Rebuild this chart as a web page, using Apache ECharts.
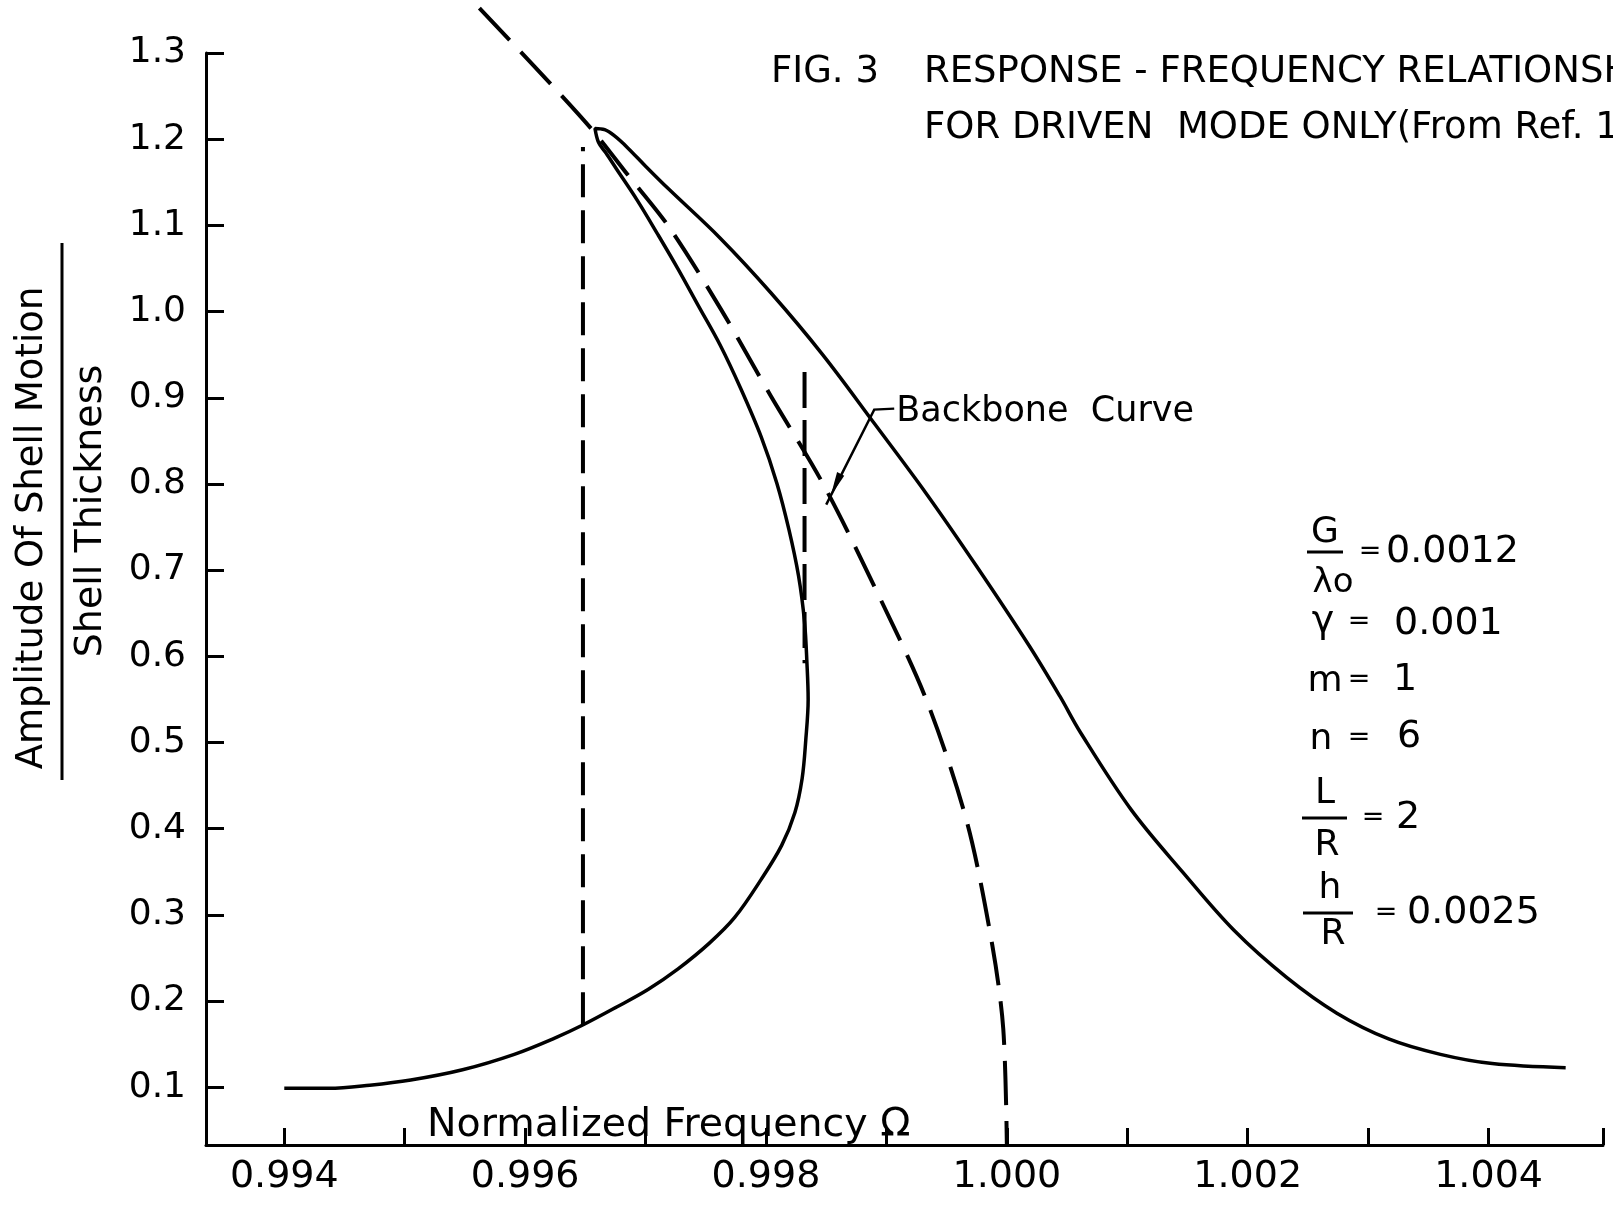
<!DOCTYPE html>
<html>
<head>
<meta charset="utf-8">
<title>Response-Frequency Relationship</title>
<script src="https://cdn.jsdelivr.net/npm/echarts@6/dist/echarts.min.js"></script>
<style>
  html, body { margin: 0; padding: 0; background: #fff; }
  #chart { width: 1613px; height: 1228px; }
</style>
</head>
<body>
<div id="chart"></div>
<script>
// Normalized frequency (Omega) vs. amplitude / shell thickness.
// Lower stable branch, from the far left up to the turning point (nose).
const lowerBranch = [
  [0.99400, 0.0988], [0.99437, 0.0988], [0.99471, 0.1024], [0.99505, 0.1084],
  [0.99548, 0.1203], [0.99591, 0.1382], [0.99625, 0.1573], [0.99647, 0.1716],
  [0.99676, 0.1931], [0.99702, 0.2134], [0.99727, 0.2373], [0.99753, 0.2672],
  [0.99774, 0.2970], [0.99796, 0.3412], [0.99813, 0.3806], [0.99824, 0.4188],
  [0.99830, 0.4582], [0.99833, 0.5024], [0.99835, 0.5501]
];
// Unstable branch, from the nose up to the peak.
const unstableBranch = [
  [0.99834, 0.5919], [0.99832, 0.6397], [0.99827, 0.6934], [0.99819, 0.7472],
  [0.99809, 0.8009], [0.99796, 0.8546], [0.99779, 0.9107], [0.99762, 0.9609],
  [0.99744, 1.0063], [0.99727, 1.0493], [0.99710, 1.0899], [0.99693, 1.1293],
  [0.99676, 1.1651], [0.99667, 1.1842], [0.99661, 1.1961], [0.99658, 1.2125]
];
// Upper stable branch, from the peak down to the right.
const upperBranch = [
  [0.99666, 1.2110], [0.99674, 1.2040], [0.99685, 1.1902],
  [0.99700, 1.1687], [0.99719, 1.1424], [0.99762, 1.0851], [0.99804, 1.0218],
  [0.99847, 0.9501], [0.99890, 0.8701], [0.99933, 0.7890], [0.99975, 0.7042],
  [1.00018, 0.6134], [1.00044, 0.5537], [1.00061, 0.5119], [1.00103, 0.4224],
  [1.00146, 0.3496], [1.00189, 0.2815], [1.00232, 0.2278], [1.00274, 0.1860],
  [1.00317, 0.1561], [1.00360, 0.1382], [1.00403, 0.1275], [1.00464, 0.1227]
];
// Backbone curve (free vibration).
const backbone = [
  [0.99562, 1.352], [0.99608, 1.284], [0.99655, 1.212], [0.99685, 1.159],
  [0.99719, 1.099], [0.99762, 1.004], [0.99804, 0.902], [0.99847, 0.801],
  [0.99890, 0.681], [0.99933, 0.550], [0.99967, 0.407], [0.99988, 0.264],
  [0.99997, 0.168], [1.00000, 0.033]
];
// Jump transitions.
const jumpUp = [[0.99648, 0.172], [0.99648, 1.191]];
const jumpDown = [[0.99832, 0.930], [0.99832, 0.592]];

// Axes.
const xRange = [0.99335, 1.00495];
const yRange = [0.033, 1.3];
const xMajorTicks = [0.994, 0.996, 0.998, 1.000, 1.002, 1.004];
const xMinorTicks = [0.995, 0.997, 0.999, 1.001, 1.003];
const yTicks = [0.1, 0.2, 0.3, 0.4, 0.5, 0.6, 0.7, 0.8, 0.9, 1.0, 1.1, 1.2, 1.3];

// Point on the backbone the label arrow points to.
const backboneArrowTip = [0.99850, 0.776];

const FONT = '"DejaVu Sans", sans-serif';
const INK = '#000';

const chart = echarts.init(document.getElementById('chart'), null, { renderer: 'canvas' });

const responseCurve = lowerBranch.concat(unstableBranch, upperBranch);

chart.setOption({
  animation: false,
  backgroundColor: '#fff',
  grid: { left: 206, right: 10, top: 53, bottom: 83, containLabel: false },
  xAxis: {
    type: 'value',
    min: xRange[0],
    max: xRange[1],
    axisLine: { show: true, lineStyle: { color: INK, width: 3 } },
    axisTick: {
      show: true, inside: true, length: 17,
      lineStyle: { color: INK, width: 3 },
      customValues: xMajorTicks.concat(xMinorTicks, [xRange[1]])
    },
    axisLabel: {
      show: true,
      customValues: xMajorTicks,
      formatter: v => v.toFixed(3),
      color: INK, fontFamily: FONT, fontSize: 38, margin: 13
    },
    splitLine: { show: false }
  },
  yAxis: {
    type: 'value',
    min: yRange[0],
    max: yRange[1],
    axisLine: { show: true, lineStyle: { color: INK, width: 3 } },
    axisTick: {
      show: true, inside: true, length: 18,
      lineStyle: { color: INK, width: 3 },
      customValues: yTicks
    },
    axisLabel: {
      show: true,
      customValues: yTicks,
      formatter: v => v.toFixed(1),
      color: INK, fontFamily: FONT, fontSize: 36, margin: 20
    },
    splitLine: { show: false }
  },
  series: [
    {
      name: 'Response', type: 'line', data: responseCurve,
      smooth: 0.35, symbol: 'none', clip: false,
      lineStyle: { color: INK, width: 3.5 }
    },
    {
      name: 'Backbone', type: 'line', data: backbone,
      smooth: 0.3, symbol: 'none', clip: false,
      lineStyle: { color: INK, width: 4, type: [44, 16] }
    },
    {
      name: 'Jump up', type: 'line', data: jumpUp,
      symbol: 'none', lineStyle: { color: INK, width: 4, type: [33, 13] }
    },
    {
      name: 'Jump down', type: 'line', data: jumpDown,
      symbol: 'none', lineStyle: { color: INK, width: 4, type: [36, 12] }
    }
  ]
});

// Annotations: title, axis names, parameter list and the backbone label.
function txt(text, x, y, size, opts) {
  opts = opts || {};
  return {
    type: 'text', x: x, y: y,
    rotation: opts.rotation || 0,
    silent: true,
    style: {
      text: text, fill: INK,
      font: size + 'px ' + FONT,
      align: opts.align || 'left',
      verticalAlign: 'middle'
    }
  };
}
function bar(x1, x2, y1, y2) {
  return {
    type: 'line', silent: true,
    shape: { x1: x1, y1: y1, x2: x2, y2: y2 },
    style: { stroke: INK, lineWidth: 3 }
  };
}

const tip = chart.convertToPixel({ gridIndex: 0 }, backboneArrowTip);
const tail = [tip[0] + 48, tip[1] - 95];
const len = Math.hypot(tip[0] - tail[0], tip[1] - tail[1]);
const ux = (tip[0] - tail[0]) / len, uy = (tip[1] - tail[1]) / len;
const headTip = [tail[0] + ux * (len - 10), tail[1] + uy * (len - 10)];
const headBase = [headTip[0] - ux * 24, headTip[1] - uy * 24];
const nx = -uy, ny = ux;

const graphics = [
  // title
  txt('FIG. 3', 771, 72, 37),
  txt('RESPONSE - FREQUENCY RELATIONSHIPS', 924, 72, 37),
  txt('FOR DRIVEN  MODE ONLY(From Ref. 1)', 924, 128, 37),
  // y-axis name as a fraction
  txt('Amplitude Of Shell Motion', 32, 528, 37, { rotation: Math.PI / 2, align: 'center' }),
  bar(62, 62, 243, 780),
  txt('Shell Thickness', 91, 511, 38, { rotation: Math.PI / 2, align: 'center' }),
  // x-axis name
  txt('Normalized Frequency \u03A9', 427, 1126, 39.5),
  // backbone label and leader
  txt('Backbone  Curve', tail[0] + 22, tail[1] + 2, 35),
  {
    type: 'polyline', silent: true,
    shape: { points: [[tail[0] + 20, tail[1] - 1], [tail[0], tail[1]], tip] },
    style: { stroke: INK, lineWidth: 2.5, fill: null }
  },
  {
    type: 'polygon', silent: true,
    shape: { points: [headTip, [headBase[0] + nx * 5, headBase[1] + ny * 5], [headBase[0] - nx * 3, headBase[1] - ny * 3]] },
    style: { fill: INK }
  },
  // parameter list
  txt('G', 1325, 533, 36, { align: 'center' }),
  bar(1307, 1343, 552, 552),
  txt('\u03BBo', 1333, 583, 34, { align: 'center' }),
  txt('=', 1370, 552, 27, { align: 'center' }),
  txt('0.0012', 1386, 552, 38),

  txt('\u03B3', 1323, 622, 38, { align: 'center' }),
  txt('=', 1359, 622, 27, { align: 'center' }),
  txt('0.001', 1394, 624, 38),

  txt('m', 1325, 682, 36, { align: 'center' }),
  txt('=', 1359, 680, 27, { align: 'center' }),
  txt('1', 1405, 680, 38, { align: 'center' }),

  txt('n', 1321, 740, 36, { align: 'center' }),
  txt('=', 1359, 738, 27, { align: 'center' }),
  txt('6', 1409, 737, 38, { align: 'center' }),

  txt('L', 1325, 794, 36, { align: 'center' }),
  bar(1302, 1347, 818, 818),
  txt('R', 1327, 846, 36, { align: 'center' }),
  txt('=', 1373, 818, 27, { align: 'center' }),
  txt('2', 1408, 818, 38, { align: 'center' }),

  txt('h', 1330, 889, 36, { align: 'center' }),
  bar(1303, 1353, 913, 913),
  txt('R', 1333, 935, 36, { align: 'center' }),
  txt('=', 1386, 913, 27, { align: 'center' }),
  txt('0.0025', 1407, 913, 38)
];

chart.setOption({ graphic: graphics });
</script>
</body>
</html>
